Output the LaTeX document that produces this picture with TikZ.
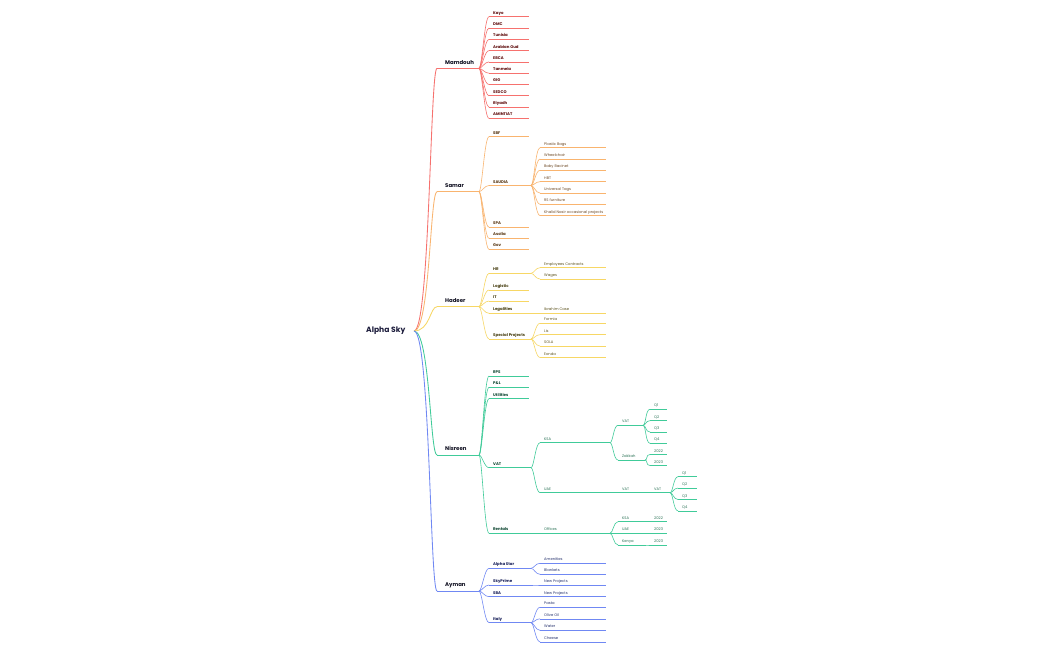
\documentclass[tikz,border=0pt]{standalone}
\usepackage{fontspec}
\setmainfont{Poppins}
\usetikzlibrary{calc}
\definecolor{cR}{HTML}{F6716E}
\definecolor{cO}{HTML}{F9B46F}
\definecolor{cY}{HTML}{F7D765}
\definecolor{cG}{HTML}{40CB99}
\definecolor{cB}{HTML}{7088F3}
\definecolor{tR}{HTML}{5E0C0C}
\definecolor{tO}{HTML}{553410}
\definecolor{tOl}{HTML}{6E4A26}
\definecolor{tY}{HTML}{463D10}
\definecolor{tYl}{HTML}{5E5420}
\definecolor{tG}{HTML}{0C4530}
\definecolor{tGl}{HTML}{2A7255}
\definecolor{tB}{HTML}{161E58}
\definecolor{tBl}{HTML}{27336E}
\definecolor{tRoot}{HTML}{1A1A3A}
\definecolor{tL1}{HTML}{111122}
\tikzset{
 rootT/.style={font=\fontsize{7.6}{9}\selectfont\bfseries, text=tRoot, inner sep=0},
 L1T/.style={font=\fontsize{5.4}{6}\selectfont\bfseries, text=tL1, inner sep=0, xshift=4pt, yshift=1.6pt},
 L2T/.style={font=\fontsize{3.9}{5}\selectfont\bfseries, inner sep=0},
 LfT/.style={font=\fontsize{3.7}{4.5}\selectfont, inner sep=0},
 lR/.style={draw=cR, line width=0.6pt},
 lO/.style={draw=cO, line width=0.6pt},
 lY/.style={draw=cY, line width=0.6pt},
 lG/.style={draw=cG, line width=0.6pt},
 lB/.style={draw=cB, line width=0.6pt},
 thick1/.style={line width=0.85pt},
}
% #1 name, #2 line start x, #3 line end x, #4 line y, #5 line style, #6 text style, #7 text
\newcommand\tn[7]{%
 \coordinate (#1-s) at (#2,#4);
 \coordinate (#1-e) at (#3,#4);
 \draw[#5] (#1-s) -- (#1-e);
 \node[#6, anchor=base west] (#1) at ([shift={(4,-2.5)}]#1-s) {#7};
}
\newcommand\con[3]{\draw[#3] (#1-e) .. controls +(3,0) and +(-4.5,0) .. (#2-s);}
\newcommand\rcon[2]{\draw[#2,thick1] (root-e) .. controls +(16,0) and +(-7,0) .. (#1-s);}
\begin{document}
\begin{tikzpicture}[x=1pt,y=-1pt]
\useasboundingbox[fill=white] (0,0) rectangle (1050,650);
\node[rootT, anchor=base east] (root) at (405.5,332.6) {Alpha Sky};
\coordinate (root-e) at (414,331);

% level 1
\tn{mam}{437}{479}{68.3}{lR,thick1}{L1T}{Mamdouh}
\tn{sam}{437}{479}{191.7}{lO,thick1}{L1T}{Samar}
\tn{had}{437}{479}{306.7}{lY,thick1}{L1T}{Hadeer}
\tn{nis}{437}{479}{455}{lG,thick1}{L1T}{Nisreen}
\tn{aym}{437}{479}{591}{lB,thick1}{L1T}{Ayman}
\rcon{mam}{cR}
\rcon{sam}{cO}
\rcon{had}{cY}
\rcon{nis}{cG}
\rcon{aym}{cB}

% Mamdouh
\tn{m1}{489}{529}{16.7}{lR}{L2T,text=tR}{Kayo}
\tn{m2}{489}{529}{28.0}{lR}{L2T,text=tR}{DMC}
\tn{m3}{489}{529}{39.3}{lR}{L2T,text=tR}{Tunisia}
\tn{m4}{489}{529}{50.6}{lR}{L2T,text=tR}{Arabian Oud}
\tn{m5}{489}{529}{61.9}{lR}{L2T,text=tR}{EBCA}
\tn{m6}{489}{529}{73.2}{lR}{L2T,text=tR}{Tanmeia}
\tn{m7}{489}{529}{84.5}{lR}{L2T,text=tR}{GIG}
\tn{m8}{489}{529}{95.8}{lR}{L2T,text=tR}{SEDCO}
\tn{m9}{489}{529}{107.1}{lR}{L2T,text=tR}{Riyadh}
\tn{m10}{489}{529}{118.4}{lR}{L2T,text=tR}{AMINTIAT}
\foreach \c in {m1,m2,m3,m4,m5,m6,m7,m8,m9,m10} {\con{mam}{\c}{lR}}

% Samar
\tn{s1}{489}{529}{136.7}{lO}{L2T,text=tO}{SBF}
\tn{s2}{489}{531}{185.5}{lO}{L2T,text=tO}{SAUDIA}
\tn{s3}{489}{529}{227.3}{lO}{L2T,text=tO}{SPA}
\tn{s4}{489}{529}{238.3}{lO}{L2T,text=tO}{Asolia}
\tn{s5}{489}{529}{249.3}{lO}{L2T,text=tO}{Gov}
\foreach \c in {s1,s2,s3,s4,s5} {\con{sam}{\c}{lO}}
\tn{sa1}{540}{606}{147.7}{lO}{LfT,text=tOl}{Plastic Bags}
\tn{sa2}{540}{606}{159.0}{lO}{LfT,text=tOl}{Wheelchair}
\tn{sa3}{540}{606}{170.3}{lO}{LfT,text=tOl}{Baby Bacinet}
\tn{sa4}{540}{606}{181.7}{lO}{LfT,text=tOl}{HBT}
\tn{sa5}{540}{606}{193.0}{lO}{LfT,text=tOl}{Universal Tags}
\tn{sa6}{540}{606}{204.3}{lO}{LfT,text=tOl}{RS furniture}
\tn{sa7}{540}{606}{215.7}{lO}{LfT,text=tOl}{Khalid Nasir occasional projects}
\foreach \c in {sa1,sa2,sa3,sa4,sa5,sa6,sa7} {\con{s2}{\c}{lO}}

% Hadeer
\tn{h1}{489}{531}{273.3}{lY}{L2T,text=tY}{HR}
\tn{h2}{489}{529}{290.0}{lY}{L2T,text=tY}{Logistic}
\tn{h3}{489}{529}{301.0}{lY}{L2T,text=tY}{IT}
\tn{h4}{489}{531}{313.3}{lY}{L2T,text=tY}{Legalities}
\tn{h5}{489}{531}{339.0}{lY}{L2T,text=tY}{Special Projects}
\foreach \c in {h1,h2,h3,h4,h5} {\con{had}{\c}{lY}}
\tn{he1}{540}{606}{267.7}{lY}{LfT,text=tYl}{Employees Contracts}
\tn{he2}{540}{606}{279.0}{lY}{LfT,text=tYl}{Wages}
\con{h1}{he1}{lY}
\con{h1}{he2}{lY}
\tn{hl1}{540}{606}{313.3}{lY}{LfT,text=tYl}{Ibrahim Case}
\con{h4}{hl1}{lY}
\tn{hs1}{540}{606}{323.3}{lY}{LfT,text=tYl}{Formia}
\tn{hs2}{540}{606}{334.7}{lY}{LfT,text=tYl}{Lis}
\tn{hs3}{540}{606}{346.1}{lY}{LfT,text=tYl}{SOLA}
\tn{hs4}{540}{606}{357.5}{lY}{LfT,text=tYl}{Eonda}
\foreach \c in {hs1,hs2,hs3,hs4} {\con{h5}{\c}{lY}}

% Nisreen
\tn{n1}{489}{529}{376.0}{lG}{L2T,text=tG}{RPS}
\tn{n2}{489}{529}{387.3}{lG}{L2T,text=tG}{P\&L}
\tn{n3}{489}{529}{398.7}{lG}{L2T,text=tG}{Utilities}
\tn{n4}{489}{531}{467.7}{lG}{L2T,text=tG}{VAT}
\tn{n5}{489}{531}{533.3}{lG}{L2T,text=tG}{Rentals}
\foreach \c in {n1,n2,n3,n4,n5} {\con{nis}{\c}{lG}}
\tn{nk}{540}{610}{442.7}{lG}{LfT,text=tGl}{KSA}
\tn{nu}{540}{612}{492.7}{lG}{LfT,text=tGl}{UAE}
\con{n4}{nk}{lG}
\con{n4}{nu}{lG}
\tn{nkv}{618}{643}{425.3}{lG}{LfT,text=tGl}{VAT}
\tn{nkz}{618}{645}{460.0}{lG}{LfT,text=tGl}{Zakkah}
\con{nk}{nkv}{lG}
\con{nk}{nkz}{lG}
\tn{q1}{650}{667}{409.3}{lG}{LfT,text=tGl}{Q1}
\tn{q2}{650}{667}{420.7}{lG}{LfT,text=tGl}{Q2}
\tn{q3}{650}{667}{432.0}{lG}{LfT,text=tGl}{Q3}
\tn{q4}{650}{667}{443.3}{lG}{LfT,text=tGl}{Q4}
\foreach \c in {q1,q2,q3,q4} {\con{nkv}{\c}{lG}}
\tn{z1}{650}{667}{454.5}{lG}{LfT,text=tGl}{2022}
\tn{z2}{650}{667}{465.5}{lG}{LfT,text=tGl}{2023}
\con{nkz}{z1}{lG}
\con{nkz}{z2}{lG}
\tn{nuv}{618}{645}{492.7}{lG}{LfT,text=tGl}{VAT}
\con{nu}{nuv}{lG}
\tn{nuv2}{650}{670}{492.7}{lG}{LfT,text=tGl}{VAT}
\con{nuv}{nuv2}{lG}
\tn{uq1}{678}{697}{476.7}{lG}{LfT,text=tGl}{Q1}
\tn{uq2}{678}{697}{488.1}{lG}{LfT,text=tGl}{Q2}
\tn{uq3}{678}{697}{499.5}{lG}{LfT,text=tGl}{Q3}
\tn{uq4}{678}{697}{510.9}{lG}{LfT,text=tGl}{Q4}
\foreach \c in {uq1,uq2,uq3,uq4} {\con{nuv2}{\c}{lG}}
\tn{no}{540}{610}{533.3}{lG}{LfT,text=tGl}{Offices}
\con{n5}{no}{lG}
\tn{ok}{618}{645}{521.7}{lG}{LfT,text=tGl}{KSA}
\tn{ou}{618}{645}{533.3}{lG}{LfT,text=tGl}{UAE}
\tn{oke}{618}{645}{545.0}{lG}{LfT,text=tGl}{Kenya}
\foreach \c in {ok,ou,oke} {\con{no}{\c}{lG}}
\tn{ok2}{650}{667}{521.7}{lG}{LfT,text=tGl}{2022}
\tn{ou2}{650}{667}{533.3}{lG}{LfT,text=tGl}{2023}
\tn{oke2}{650}{667}{545.0}{lG}{LfT,text=tGl}{2023}
\con{ok}{ok2}{lG}
\con{ou}{ou2}{lG}
\con{oke}{oke2}{lG}

% Ayman
\tn{a1}{489}{531}{568.3}{lB}{L2T,text=tB}{Alpha Star}
\tn{a2}{489}{531}{585.0}{lB}{L2T,text=tB}{SkyPrime}
\tn{a3}{489}{531}{596.7}{lB}{L2T,text=tB}{SBA}
\tn{a4}{489}{531}{622.7}{lB}{L2T,text=tB}{Italy}
\foreach \c in {a1,a2,a3,a4} {\con{aym}{\c}{lB}}
\tn{aa1}{540}{606}{563.3}{lB}{LfT,text=tBl}{Amenities}
\tn{aa2}{540}{606}{574.3}{lB}{LfT,text=tBl}{Blankets}
\con{a1}{aa1}{lB}
\con{a1}{aa2}{lB}
\tn{as1}{540}{606}{585.0}{lB}{LfT,text=tBl}{New Projects}
\con{a2}{as1}{lB}
\tn{ab1}{540}{606}{596.7}{lB}{LfT,text=tBl}{New Projects}
\con{a3}{ab1}{lB}
\tn{ai1}{540}{606}{607.3}{lB}{LfT,text=tBl}{Pasta}
\tn{ai2}{540}{606}{618.8}{lB}{LfT,text=tBl}{Olive Oil}
\tn{ai3}{540}{606}{630.3}{lB}{LfT,text=tBl}{Water}
\tn{ai4}{540}{606}{641.8}{lB}{LfT,text=tBl}{Cheese}
\foreach \c in {ai1,ai2,ai3,ai4} {\con{a4}{\c}{lB}}
\end{tikzpicture}
\end{document}
